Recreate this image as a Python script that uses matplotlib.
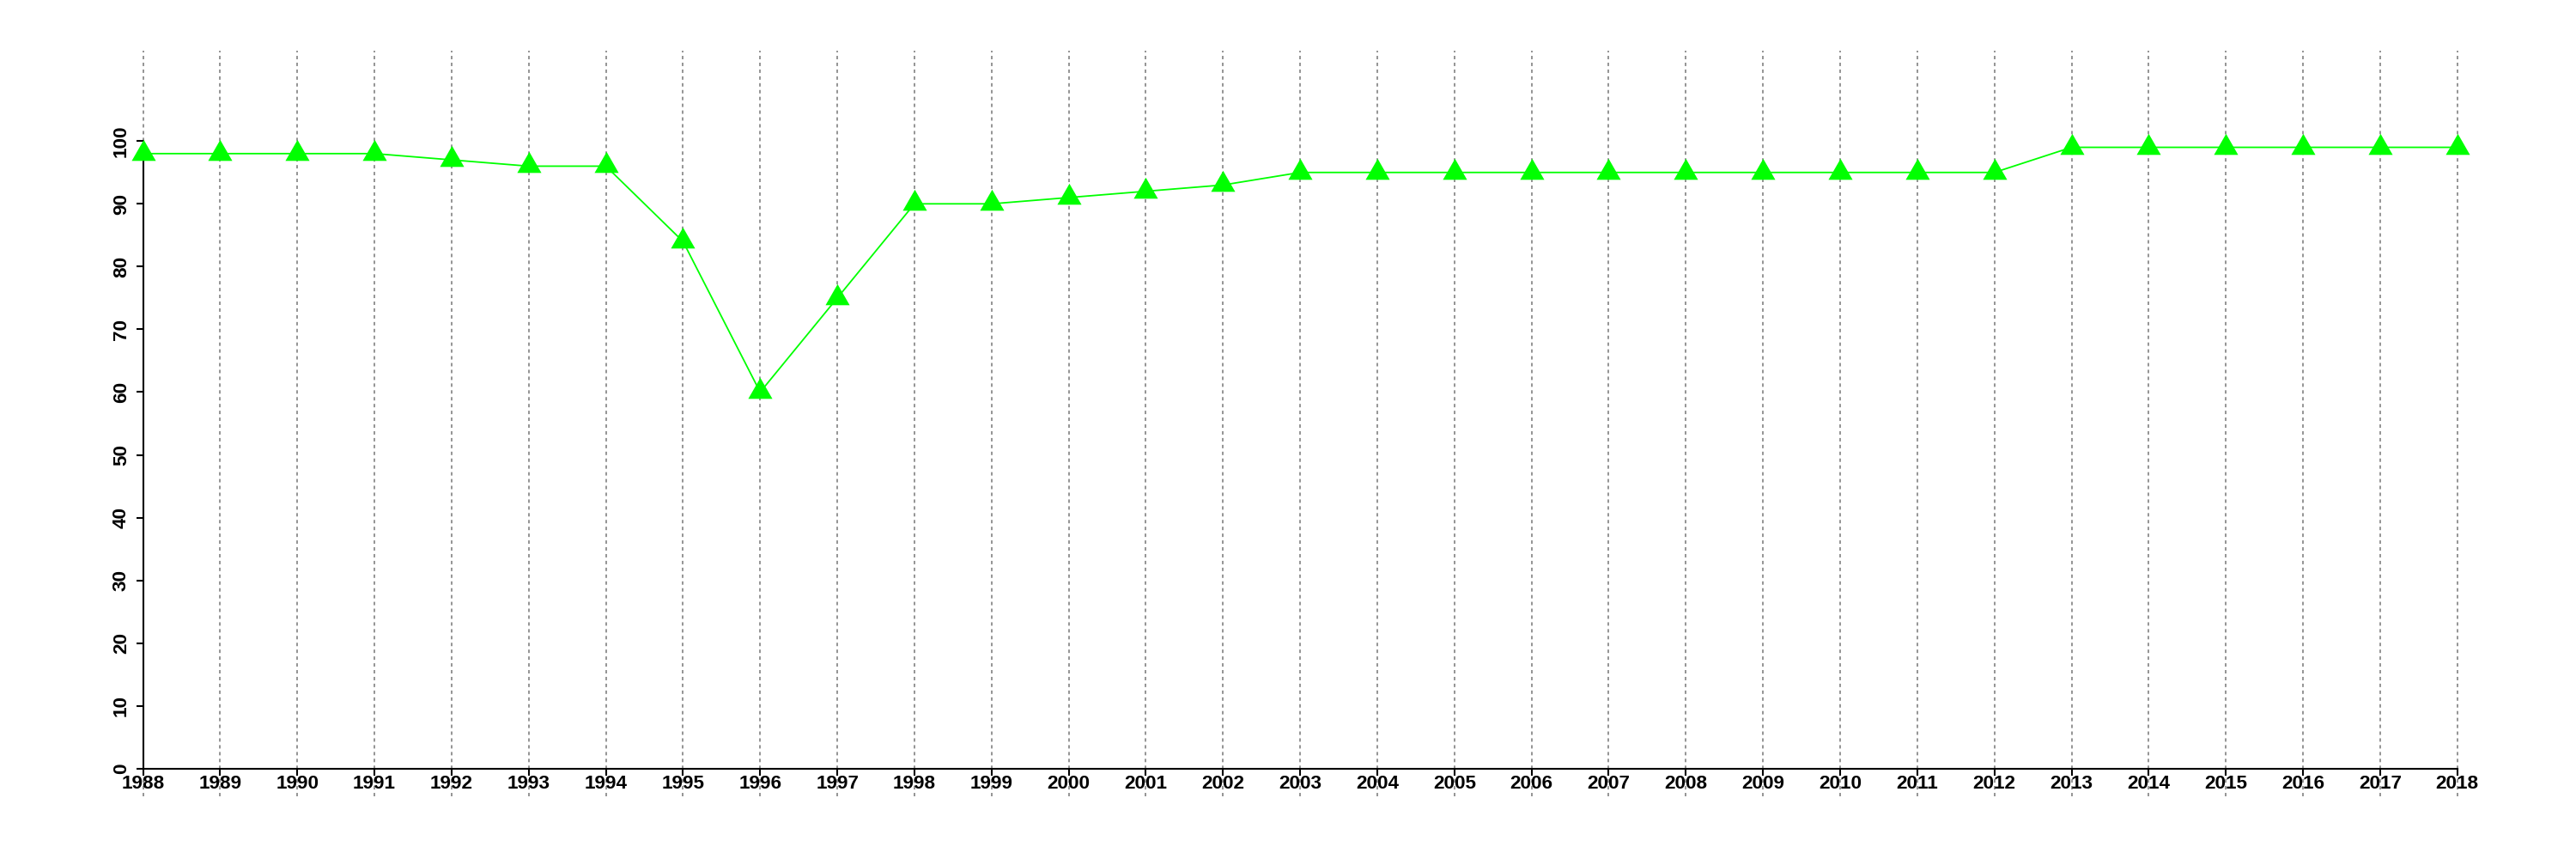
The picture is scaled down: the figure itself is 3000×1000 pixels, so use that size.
import matplotlib
matplotlib.use("Agg")
import matplotlib.pyplot as plt

years = list(range(1988, 2019))
values = [98, 98, 98, 98, 97, 96, 96, 84, 60, 75,
          90, 90, 91, 92, 93, 95, 95, 95, 95, 95,
          95, 95, 95, 95, 95, 99, 99, 99, 99, 99, 99]
y_ticks = list(range(0, 101, 10))

plt.rcParams['font.family'] = ['Liberation Sans', 'DejaVu Sans']
plt.rcParams['font.weight'] = 'bold'

fig = plt.figure(figsize=(30, 10), dpi=100)
ax = fig.add_axes([0.0196, 0.073, 0.97023, 0.868])

ax.set_xlim(years[0] - 0.04 * (years[-1] - years[0]), years[-1] + 0.04 * (years[-1] - years[0]))
ax.set_ylim(-0.04 * 110, 110 * 1.04)

for yr in years:
    ax.axvline(yr, color='#777777', lw=1.1, linestyle=(0, (2.6, 2.6)), zorder=1)

tri = [(0, 16), (-13.5, -7.5), (13.5, -7.5)]
ax.plot(years, values, color='#00ff00', lw=1.3, marker=tri, markersize=24,
        markerfacecolor='#00ff00', markeredgecolor='#00ff00', markeredgewidth=0, zorder=3)

for s in ['top', 'right']:
    ax.spines[s].set_visible(False)
ax.spines['left'].set_position(('data', years[0]))
ax.spines['left'].set_bounds(0, 100)
ax.spines['bottom'].set_position(('data', 0))
ax.spines['bottom'].set_bounds(years[0], years[-1])
for s in ['left', 'bottom']:
    ax.spines[s].set_linewidth(1.5)
    ax.spines[s].set_zorder(2)

ax.set_xticks(years)
ax.set_xticklabels([str(y) for y in years], fontweight='bold')
ax.set_yticks(y_ticks)
ax.set_yticklabels([str(v) for v in y_ticks], rotation=90, va='center', fontweight='bold')
ax.tick_params(axis='both', direction='out', length=6, width=1.5, labelsize=16.2, colors='black')
ax.tick_params(axis='x', pad=-1)
ax.tick_params(axis='y', pad=4.5)

fig.savefig('out.png', dpi=100)
